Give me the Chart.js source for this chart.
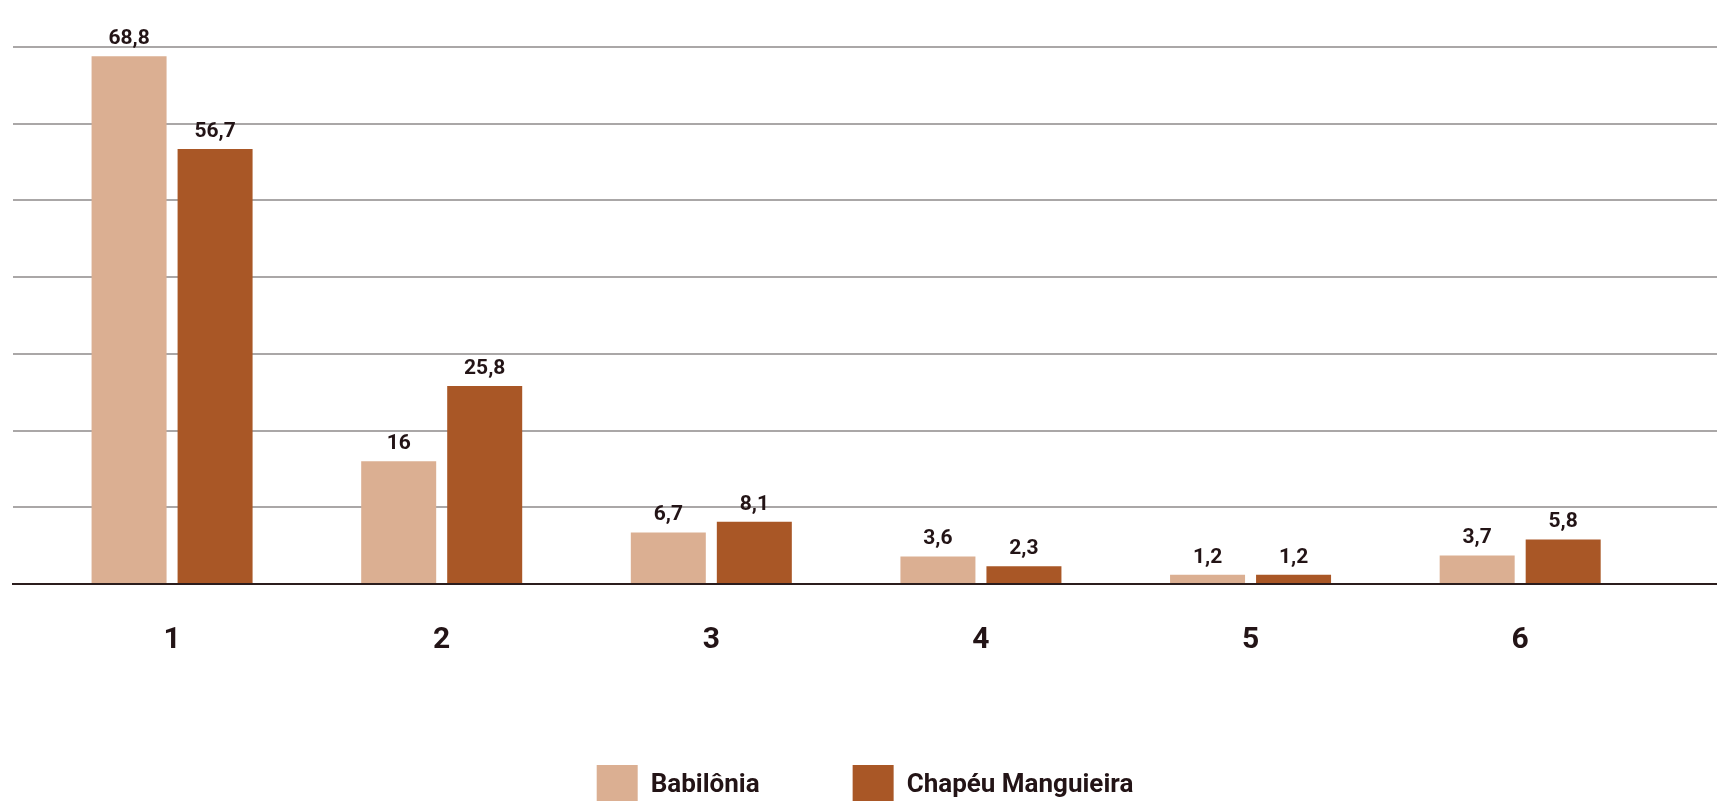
<!DOCTYPE html>
<html>
<head>
<meta charset="utf-8">
<script src="https://cdn.jsdelivr.net/npm/chart.js@4/dist/chart.umd.min.js"></script>
<style>
  html, body { margin: 0; padding: 0; background: #fff; overflow: hidden; }
  #wrap { position: relative; width: 1717px; height: 816px; }
</style>
</head>
<body>
<div id="wrap"><canvas id="barChart"></canvas></div>
<script>
const categories = ["1", "2", "3", "4", "5", "6"];
const seriesNames = ["Babilônia", "Chapéu Manguieira"];
const babiloniaValues = [68.8, 16, 6.7, 3.6, 1.2, 3.7];
const chapeuValues = [56.7, 25.8, 8.1, 2.3, 1.2, 5.8];
const colors = ["#dbaf92", "#a95726"];
const textColor = "#231416";

Chart.defaults.font.family = "Roboto, 'Noto Sans', sans-serif";

const toPoints = (values) => values.map((v, i) => ({ x: i + 1, y: v }));
const fmt = (v) => String(v).replace(".", ",");

// value labels above bars
const barLabels = {
  id: "barLabels",
  afterDatasetsDraw(chart) {
    const ctx = chart.ctx;
    ctx.save();
    ctx.font = "bold 21px Roboto, sans-serif";
    ctx.fillStyle = textColor;
    ctx.textAlign = "center";
    ctx.textBaseline = "bottom";
    chart.data.datasets.forEach((ds, di) => {
      chart.getDatasetMeta(di).data.forEach((bar, i) => {
        ctx.fillText(fmt(ds.data[i].y), bar.x, bar.y - 7);
      });
    });
    ctx.restore();
  },
};

const ctx = document.getElementById("barChart").getContext("2d");
const chart = new Chart(ctx, {
  type: "bar",
  data: {
    datasets: [
      {
        label: seriesNames[0],
        data: toPoints(babiloniaValues),
        backgroundColor: colors[0],
        borderWidth: 0,
      },
      {
        label: seriesNames[1],
        data: toPoints(chapeuValues),
        backgroundColor: colors[1],
        borderWidth: 0,
      },
    ],
  },
  options: {
    responsive: true,
    maintainAspectRatio: false,
    animation: false,
    categoryPercentage: 0.638,
    barPercentage: 0.872,
    layout: { padding: { top: 47, left: 13, right: 0, bottom: 0 } },
    scales: {
      x: {
        type: "linear",
        min: 0.41,
        max: 6.73,
        offset: false,
        grid: { display: false, drawTicks: false, tickLength: 0 },
        border: { display: true, color: "#2b1d1d", width: 2 },
        ticks: {
          stepSize: 1,
          includeBounds: false,
          padding: 38,
          color: textColor,
          font: { size: 30, weight: "bold" },
          callback: (v) => (Number.isInteger(v) ? categories[v - 1] : ""),
        },
        // tick padding counts twice in the axis height, trim the bottom part
        afterFit: (scale) => {
          scale.height -= 24;
        },
      },
      y: {
        min: 0,
        max: 70,
        grid: {
          color: (c) => (c.tick.value === 0 ? "#2b1d1d" : "#aaa7a7"),
          lineWidth: 2,
          drawTicks: false,
          tickLength: 0,
        },
        border: { display: false },
        ticks: { display: false, stepSize: 10 },
      },
    },
    plugins: {
      legend: {
        position: "bottom",
        labels: {
          boxWidth: 41,
          boxHeight: 41,
          padding: 93,
          color: textColor,
          font: { size: 26, weight: "bold" },
        },
      },
      tooltip: { enabled: false },
    },
  },
  plugins: [barLabels],
});
</script>
</body>
</html>
